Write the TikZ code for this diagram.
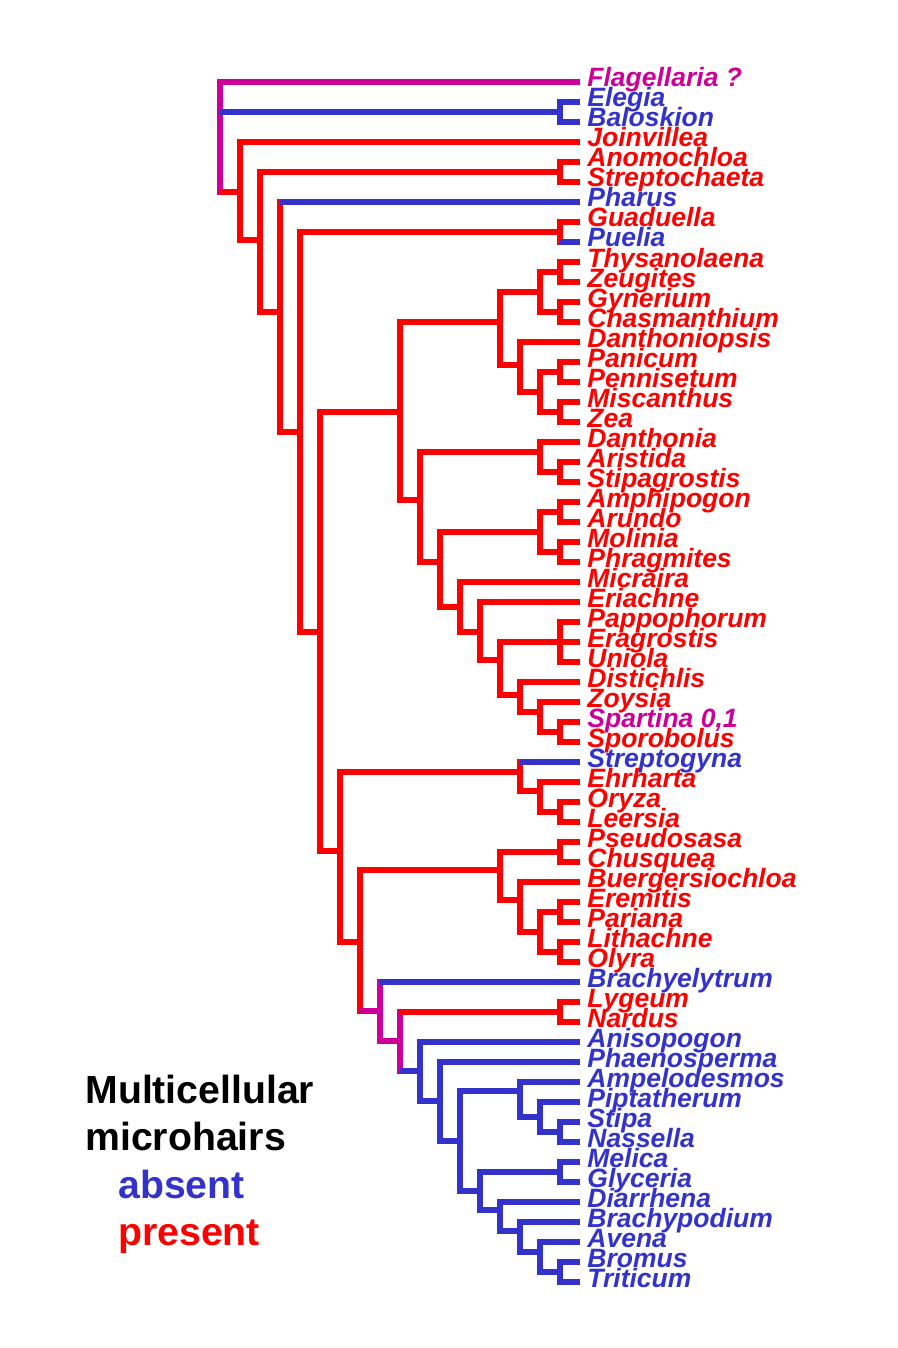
\documentclass[tikz,border=0pt]{standalone}
\usepackage{fontspec}
\setmainfont{Liberation Sans}
\usepackage{tikz}
\definecolor{absblue}{RGB}{51,51,204}
\definecolor{presred}{RGB}{255,0,0}
\definecolor{ambig}{RGB}{204,0,153}
\newcommand{\hbr}[3]{\draw[#1] (#3 -| #2) -- (#3)}
\newcommand{\vbr}[4]{\draw[#1, line cap=rect] (#3 -| #2) -- (#4 -| #2)}
\tikzset{
  taxon/.style={anchor=west, inner xsep=3.5pt, inner ysep=0pt, text height=7pt, text depth=2pt,
    font=\fontsize{13.25}{14}\selectfont\bfseries\itshape},
  legend/.style={anchor=base west, inner sep=0pt, font=\fontsize{19.6}{22}\selectfont\bfseries},
  absent/.style={absblue, line width=3pt},
  present/.style={presred, line width=3pt},
  unsure/.style={ambig, line width=3pt}
}

\begin{document}
\begin{tikzpicture}[x=0.5pt, y=-0.5pt]
                    \useasboundingbox (0,0) rectangle (898,1348);

                    \node[taxon, ambig] (flag) at (580,82) {Flagellaria ?};
                    \node[taxon, absblue] (eleg) at (580,102) {Elegia};
                    \node[taxon, absblue] (balo) at (580,122) {Baloskion};
                    \node[taxon, presred] (join) at (580,142) {Joinvillea};
                    \node[taxon, presred] (anom) at (580,162) {Anomochloa};
                    \node[taxon, presred] (strc) at (580,182) {Streptochaeta};
                    \node[taxon, absblue] (phar) at (580,202) {Pharus};
                    \node[taxon, presred] (guad) at (580,222) {Guaduella};
                    \node[taxon, absblue] (puel) at (580,242) {Puelia};
                    \node[taxon, presred] (thys) at (580,262) {Thysanolaena};
                    \node[taxon, presred] (zeug) at (580,282) {Zeugites};
                    \node[taxon, presred] (gyne) at (580,302) {Gynerium};
                    \node[taxon, presred] (chas) at (580,322) {Chasmanthium};
                    \node[taxon, presred] (dtps) at (580,342) {Danthoniopsis};
                    \node[taxon, presred] (pani) at (580,362) {Panicum};
                    \node[taxon, presred] (penn) at (580,382) {Pennisetum};
                    \node[taxon, presred] (misc) at (580,402) {Miscanthus};
                    \node[taxon, presred] (zea) at (580,422) {Zea};
                    \node[taxon, presred] (dant) at (580,442) {Danthonia};
                    \node[taxon, presred] (aris) at (580,462) {Aristida};
                    \node[taxon, presred] (stpg) at (580,482) {Stipagrostis};
                    \node[taxon, presred] (amph) at (580,502) {Amphipogon};
                    \node[taxon, presred] (arun) at (580,522) {Arundo};
                    \node[taxon, presred] (moli) at (580,542) {Molinia};
                    \node[taxon, presred] (phra) at (580,562) {Phragmites};
                    \node[taxon, presred] (micr) at (580,582) {Micraira};
                    \node[taxon, presred] (eria) at (580,602) {Eriachne};
                    \node[taxon, presred] (papp) at (580,622) {Pappophorum};
                    \node[taxon, presred] (erag) at (580,642) {Eragrostis};
                    \node[taxon, presred] (unio) at (580,662) {Uniola};
                    \node[taxon, presred] (dist) at (580,682) {Distichlis};
                    \node[taxon, presred] (zoys) at (580,702) {Zoysia};
                    \node[taxon, ambig] (spar) at (580,722) {Spartina 0,1};
                    \node[taxon, presred] (spor) at (580,742) {Sporobolus};
                    \node[taxon, absblue] (stgy) at (580,762) {Streptogyna};
                    \node[taxon, presred] (ehrh) at (580,782) {Ehrharta};
                    \node[taxon, presred] (oryz) at (580,802) {Oryza};
                    \node[taxon, presred] (leer) at (580,822) {Leersia};
                    \node[taxon, presred] (pseu) at (580,842) {Pseudosasa};
                    \node[taxon, presred] (chus) at (580,862) {Chusquea};
                    \node[taxon, presred] (buer) at (580,882) {Buergersiochloa};
                    \node[taxon, presred] (erem) at (580,902) {Eremitis};
                    \node[taxon, presred] (pari) at (580,922) {Pariana};
                    \node[taxon, presred] (lith) at (580,942) {Lithachne};
                    \node[taxon, presred] (olyr) at (580,962) {Olyra};
                    \node[taxon, absblue] (brel) at (580,982) {Brachyelytrum};
                    \node[taxon, presred] (lyge) at (580,1002) {Lygeum};
                    \node[taxon, presred] (nard) at (580,1022) {Nardus};
                    \node[taxon, absblue] (anis) at (580,1042) {Anisopogon};
                    \node[taxon, absblue] (phae) at (580,1062) {Phaenosperma};
                    \node[taxon, absblue] (ampe) at (580,1082) {Ampelodesmos};
                    \node[taxon, absblue] (pipt) at (580,1102) {Piptatherum};
                    \node[taxon, absblue] (stip) at (580,1122) {Stipa};
                    \node[taxon, absblue] (nass) at (580,1142) {Nassella};
                    \node[taxon, absblue] (meli) at (580,1162) {Melica};
                    \node[taxon, absblue] (glyc) at (580,1182) {Glyceria};
                    \node[taxon, absblue] (diar) at (580,1202) {Diarrhena};
                    \node[taxon, absblue] (brpo) at (580,1222) {Brachypodium};
                    \node[taxon, absblue] (aven) at (580,1242) {Avena};
                    \node[taxon, absblue] (brom) at (580,1262) {Bromus};
                    \node[taxon, absblue] (trit) at (580,1282) {Triticum};

                    % inner nodes of the tree
                    \coordinate (root) at (220,137);
                    \coordinate (restio) at (560,112);
                    \coordinate (n1) at (240,192);
                    \coordinate (n2) at (260,240);
                    \coordinate (anst) at (560,172);
                    \coordinate (n3) at (280,312);
                    \coordinate (n4) at (300,432);
                    \coordinate (gupu) at (560,232);
                    \coordinate (n5) at (320,632);
                    \coordinate (pacmad) at (400,412);
                    \coordinate (n6) at (500,322);
                    \coordinate (n7) at (540,292);
                    \coordinate (thze) at (560,272);
                    \coordinate (gych) at (560,312);
                    \coordinate (n8) at (520,365);
                    \coordinate (n9) at (540,392);
                    \coordinate (pape) at (560,372);
                    \coordinate (misz) at (560,412);
                    \coordinate (n10) at (420,500);
                    \coordinate (n11) at (540,452);
                    \coordinate (arst) at (560,472);
                    \coordinate (n12) at (440,562);
                    \coordinate (n13) at (540,532);
                    \coordinate (amar) at (560,512);
                    \coordinate (moph) at (560,552);
                    \coordinate (n14) at (460,607);
                    \coordinate (n15) at (480,632);
                    \coordinate (n16) at (500,660);
                    \coordinate (paeu) at (560,642);
                    \coordinate (n17) at (520,695);
                    \coordinate (n18) at (540,712);
                    \coordinate (spsp) at (560,732);
                    \coordinate (bep) at (340,851);
                    \coordinate (n19) at (520,772);
                    \coordinate (n20) at (540,791);
                    \coordinate (orle) at (560,812);
                    \coordinate (n21) at (360,942);
                    \coordinate (n22) at (500,870);
                    \coordinate (psch) at (560,852);
                    \coordinate (n23) at (520,900);
                    \coordinate (n24) at (540,932);
                    \coordinate (erpa) at (560,912);
                    \coordinate (liol) at (560,952);
                    \coordinate (n25) at (380,1011);
                    \coordinate (n26) at (400,1041);
                    \coordinate (lyna) at (560,1012);
                    \coordinate (n27) at (420,1071);
                    \coordinate (n28) at (440,1101);
                    \coordinate (n29) at (460,1141);
                    \coordinate (n30) at (520,1091);
                    \coordinate (n31) at (540,1117);
                    \coordinate (stna) at (560,1132);
                    \coordinate (n32) at (480,1191);
                    \coordinate (megl) at (560,1172);
                    \coordinate (n33) at (500,1210);
                    \coordinate (n34) at (520,1231);
                    \coordinate (n35) at (540,1252);
                    \coordinate (brtr) at (560,1272);

                    % verticals
                    \vbr{unsure}{root}{flag}{n1};
                    \vbr{absent}{restio}{eleg}{balo};
                    \vbr{present}{n1}{join}{n2};
                    \vbr{present}{n2}{anst}{n3};
                    \vbr{present}{anst}{anom}{strc};
                    \vbr{present}{n3}{phar}{n4};
                    \vbr{present}{n4}{gupu}{n5};
                    \vbr{present}{gupu}{guad}{puel};
                    \vbr{present}{n5}{pacmad}{bep};
                    \vbr{present}{pacmad}{n6}{n10};
                    \vbr{present}{n6}{n7}{n8};
                    \vbr{present}{n7}{thze}{gych};
                    \vbr{present}{thze}{thys}{zeug};
                    \vbr{present}{gych}{gyne}{chas};
                    \vbr{present}{n8}{dtps}{n9};
                    \vbr{present}{n9}{pape}{misz};
                    \vbr{present}{pape}{pani}{penn};
                    \vbr{present}{misz}{misc}{zea};
                    \vbr{present}{n10}{n11}{n12};
                    \vbr{present}{n11}{dant}{arst};
                    \vbr{present}{arst}{aris}{stpg};
                    \vbr{present}{n12}{n13}{n14};
                    \vbr{present}{n13}{amar}{moph};
                    \vbr{present}{amar}{amph}{arun};
                    \vbr{present}{moph}{moli}{phra};
                    \vbr{present}{n14}{micr}{n15};
                    \vbr{present}{n15}{eria}{n16};
                    \vbr{present}{n16}{paeu}{n17};
                    \vbr{present}{paeu}{papp}{unio};
                    \vbr{present}{n17}{dist}{n18};
                    \vbr{present}{n18}{zoys}{spsp};
                    \vbr{present}{spsp}{spar}{spor};
                    \vbr{present}{bep}{n19}{n21};
                    \vbr{present}{n19}{stgy}{n20};
                    \vbr{present}{n20}{ehrh}{orle};
                    \vbr{present}{orle}{oryz}{leer};
                    \vbr{present}{n21}{n22}{n25};
                    \vbr{present}{n22}{psch}{n23};
                    \vbr{present}{psch}{pseu}{chus};
                    \vbr{present}{n23}{buer}{n24};
                    \vbr{present}{n24}{erpa}{liol};
                    \vbr{present}{erpa}{erem}{pari};
                    \vbr{present}{liol}{lith}{olyr};
                    \vbr{unsure}{n25}{brel}{n26};
                    \vbr{unsure}{n26}{lyna}{n27};
                    \vbr{present}{lyna}{lyge}{nard};
                    \vbr{absent}{n27}{anis}{n28};
                    \vbr{absent}{n28}{phae}{n29};
                    \vbr{absent}{n29}{n30}{n32};
                    \vbr{absent}{n30}{ampe}{n31};
                    \vbr{absent}{n31}{pipt}{stna};
                    \vbr{absent}{stna}{stip}{nass};
                    \vbr{absent}{n32}{megl}{n33};
                    \vbr{absent}{megl}{meli}{glyc};
                    \vbr{absent}{n33}{diar}{n34};
                    \vbr{absent}{n34}{brpo}{n35};
                    \vbr{absent}{n35}{aven}{brtr};
                    \vbr{absent}{brtr}{brom}{trit};

                    % horizontals
                    \hbr{unsure}{root}{flag};
                    \hbr{absent}{root}{restio};
                    \hbr{present}{root}{n1};
                    \hbr{absent}{restio}{eleg};
                    \hbr{absent}{restio}{balo};
                    \hbr{present}{n1}{join};
                    \hbr{present}{n1}{n2};
                    \hbr{present}{n2}{anst};
                    \hbr{present}{n2}{n3};
                    \hbr{present}{anst}{anom};
                    \hbr{present}{anst}{strc};
                    \hbr{absent}{n3}{phar};
                    \hbr{present}{n3}{n4};
                    \hbr{present}{n4}{gupu};
                    \hbr{present}{n4}{n5};
                    \hbr{present}{gupu}{guad};
                    \hbr{absent}{gupu}{puel};
                    \hbr{present}{n5}{pacmad};
                    \hbr{present}{n5}{bep};

                    \hbr{present}{pacmad}{n6};
                    \hbr{present}{pacmad}{n10};
                    \hbr{present}{n6}{n7};
                    \hbr{present}{n6}{n8};
                    \hbr{present}{n7}{thze};
                    \hbr{present}{n7}{gych};
                    \hbr{present}{thze}{thys};
                    \hbr{present}{thze}{zeug};
                    \hbr{present}{gych}{gyne};
                    \hbr{present}{gych}{chas};
                    \hbr{present}{n8}{dtps};
                    \hbr{present}{n8}{n9};
                    \hbr{present}{n9}{pape};
                    \hbr{present}{n9}{misz};
                    \hbr{present}{pape}{pani};
                    \hbr{present}{pape}{penn};
                    \hbr{present}{misz}{misc};
                    \hbr{present}{misz}{zea};
                    \hbr{present}{n10}{n11};
                    \hbr{present}{n10}{n12};
                    \hbr{present}{n11}{dant};
                    \hbr{present}{n11}{arst};
                    \hbr{present}{arst}{aris};
                    \hbr{present}{arst}{stpg};
                    \hbr{present}{n12}{n13};
                    \hbr{present}{n12}{n14};
                    \hbr{present}{n13}{amar};
                    \hbr{present}{n13}{moph};
                    \hbr{present}{amar}{amph};
                    \hbr{present}{amar}{arun};
                    \hbr{present}{moph}{moli};
                    \hbr{present}{moph}{phra};
                    \hbr{present}{n14}{micr};
                    \hbr{present}{n14}{n15};
                    \hbr{present}{n15}{eria};
                    \hbr{present}{n15}{n16};
                    \hbr{present}{n16}{paeu};
                    \hbr{present}{n16}{n17};
                    \hbr{present}{paeu}{papp};
                    \hbr{present}{paeu}{erag};
                    \hbr{present}{paeu}{unio};
                    \hbr{present}{n17}{dist};
                    \hbr{present}{n17}{n18};
                    \hbr{present}{n18}{zoys};
                    \hbr{present}{n18}{spsp};
                    \hbr{present}{spsp}{spar};
                    \hbr{present}{spsp}{spor};

                    \hbr{present}{bep}{n19};
                    \hbr{present}{bep}{n21};
                    \hbr{absent}{n19}{stgy};
                    \hbr{present}{n19}{n20};
                    \hbr{present}{n20}{ehrh};
                    \hbr{present}{n20}{orle};
                    \hbr{present}{orle}{oryz};
                    \hbr{present}{orle}{leer};
                    \hbr{present}{n21}{n22};
                    \hbr{unsure}{n21}{n25};
                    \hbr{present}{n22}{psch};
                    \hbr{present}{n22}{n23};
                    \hbr{present}{psch}{pseu};
                    \hbr{present}{psch}{chus};
                    \hbr{present}{n23}{buer};
                    \hbr{present}{n23}{n24};
                    \hbr{present}{n24}{erpa};
                    \hbr{present}{n24}{liol};
                    \hbr{present}{erpa}{erem};
                    \hbr{present}{erpa}{pari};
                    \hbr{present}{liol}{lith};
                    \hbr{present}{liol}{olyr};

                    \hbr{absent}{n25}{brel};
                    \hbr{unsure}{n25}{n26};
                    \hbr{present}{n26}{lyna};
                    \hbr{absent}{n26}{n27};
                    \hbr{present}{lyna}{lyge};
                    \hbr{present}{lyna}{nard};
                    \hbr{absent}{n27}{anis};
                    \hbr{absent}{n27}{n28};
                    \hbr{absent}{n28}{phae};
                    \hbr{absent}{n28}{n29};
                    \hbr{absent}{n29}{n30};
                    \hbr{absent}{n29}{n32};
                    \hbr{absent}{n30}{ampe};
                    \hbr{absent}{n30}{n31};
                    \hbr{absent}{n31}{pipt};
                    \hbr{absent}{n31}{stna};
                    \hbr{absent}{stna}{stip};
                    \hbr{absent}{stna}{nass};
                    \hbr{absent}{n32}{megl};
                    \hbr{absent}{n32}{n33};
                    \hbr{absent}{megl}{meli};
                    \hbr{absent}{megl}{glyc};
                    \hbr{absent}{n33}{diar};
                    \hbr{absent}{n33}{n34};
                    \hbr{absent}{n34}{brpo};
                    \hbr{absent}{n34}{n35};
                    \hbr{absent}{n35}{aven};
                    \hbr{absent}{n35}{brtr};
                    \hbr{absent}{brtr}{brom};
                    \hbr{absent}{brtr}{trit};

                    % key
                    \node[legend] (key1) at (85,1103) {Multicellular};
                    \node[legend] (key2) at (85,1150) {microhairs};
                    \node[legend, absblue] (keyabs) at (118,1198) {absent};
                    \node[legend, presred] (keypres) at (118,1245) {present};
                \end{tikzpicture}
\end{document}
